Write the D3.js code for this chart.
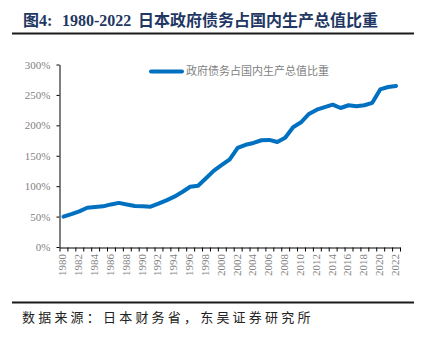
<!DOCTYPE html>
<html>
<head>
<meta charset="utf-8">
<script src="https://cdn.jsdelivr.net/npm/d3@7/dist/d3.min.js"></script>
<style>
  html, body { margin: 0; padding: 0; background: #fff; }
  svg { display: block; }
</style>
</head>
<body>
<script>
// Japanese government debt as a share of GDP, 1980-2022 (%)
const years = d3.range(1980, 2023);
const debtRatio = [
  50, 54, 58.5, 64.5, 65.8, 66.8, 70, 72.5, 70, 67.4,
  66.8, 66.3, 71.2, 76.7, 82.7, 90.4, 99, 100.8, 112.9, 125.5,
  134.8, 144.2, 163, 168, 171, 175.5, 176, 172.6, 179.7, 196.8,
  205, 218.7, 225.8, 230, 234, 228.5, 233, 231.5, 233, 237,
  259, 263, 264.5
];
const yTicks = [0, 50, 100, 150, 200, 250, 300];
const xLabelYears = years.filter(y => y % 2 === 0);
const seriesName = "政府债务占国内生产总值比重";
const titleParts = [
  { text: "图4:", x: 23 },
  { text: "1980-2022", x: 62 },
  { text: "日本政府债务占国内生产总值比重", x: 138 }
];
const sourceText = "数据来源：日本财务省，东吴证券研究所";

const W = 427, H = 338;
const svg = d3.select("body").append("svg").attr("width", W).attr("height", H);

// Title and rules
svg.append("text")
  .attr("y", 26)
  .attr("font-family", "'Liberation Serif', 'Noto Sans CJK SC', serif")
  .attr("font-weight", "bold").attr("font-size", 16)
  .attr("fill", "#1f3763")
  .selectAll("tspan").data(titleParts).join("tspan")
  .attr("x", d => d.x)
  .text(d => d.text);
svg.append("line").attr("x1", 12).attr("x2", 414).attr("y1", 33.5).attr("y2", 33.5)
  .attr("stroke", "#1a1a1a").attr("stroke-width", 2);
svg.append("line").attr("x1", 12).attr("x2", 414).attr("y1", 302.5).attr("y2", 302.5)
  .attr("stroke", "#1a1a1a").attr("stroke-width", 2);
svg.append("text")
  .attr("x", 22).attr("y", 322)
  .attr("font-family", "'Noto Sans CJK SC', sans-serif")
  .attr("font-size", 13).attr("letter-spacing", 3.2)
  .attr("fill", "#222")
  .text(sourceText);

// Scales: categories occupy one unit each, points sit at category centres
const x = d3.scaleLinear().domain([1979.5, 2022.5]).range([59.5, 400]);
const y = d3.scaleLinear().domain([0, 300]).range([247, 64.5]);

const tickFont = "'Liberation Serif', 'Times New Roman', serif";

// Y axis
const yAxis = svg.append("g").attr("transform", "translate(59.5,0)")
  .call(d3.axisLeft(y).tickValues(yTicks).tickSize(3).tickSizeOuter(0).tickPadding(6)
    .tickFormat(d => d + "%"));
yAxis.select(".domain").attr("stroke", "#000");
yAxis.selectAll(".tick line").attr("stroke", "#000");
yAxis.selectAll(".tick text").attr("font-family", tickFont).attr("font-size", 11).attr("fill", "#7f7f7f");

// X axis: tick marks on category boundaries
const xAxis = svg.append("g").attr("transform", "translate(0,247.5)")
  .call(d3.axisBottom(x).tickValues(d3.range(1979.5, 2023, 1)).tickSize(4).tickSizeOuter(0)
    .tickFormat(""));
xAxis.select(".domain").attr("stroke", "#000");
xAxis.selectAll(".tick line").attr("stroke", "#000");

// X labels at category centres, rotated
const xLab = svg.append("g").attr("transform", "translate(0,247.5)")
  .call(d3.axisBottom(x).tickValues(xLabelYears).tickSize(0).tickPadding(0).tickFormat(d3.format("d")));
xLab.select(".domain").remove();
xLab.selectAll(".tick text")
  .attr("font-family", tickFont).attr("font-size", 11).attr("fill", "#7f7f7f")
  .attr("text-anchor", "end")
  .attr("transform", "translate(-1.5,6.5) rotate(-90)")
  .attr("x", 0).attr("y", 0).attr("dy", "0.35em");

// Series line
const line = d3.line().x((d, i) => x(years[i])).y(d => y(d));
svg.append("path")
  .datum(debtRatio)
  .attr("d", line)
  .attr("fill", "none")
  .attr("stroke", "#0070c0")
  .attr("stroke-width", 4)
  .attr("stroke-linejoin", "round")
  .attr("stroke-linecap", "round");

// Legend
svg.append("line").attr("x1", 151).attr("x2", 182).attr("y1", 71.5).attr("y2", 71.5)
  .attr("stroke", "#0070c0").attr("stroke-width", 4).attr("stroke-linecap", "round");
svg.append("text")
  .attr("x", 186).attr("y", 71.5).attr("dy", "0.35em")
  .attr("font-family", "'Noto Sans CJK SC', sans-serif")
  .attr("font-size", 11).attr("fill", "#7f7f7f")
  .text(seriesName);
</script>
</body>
</html>
